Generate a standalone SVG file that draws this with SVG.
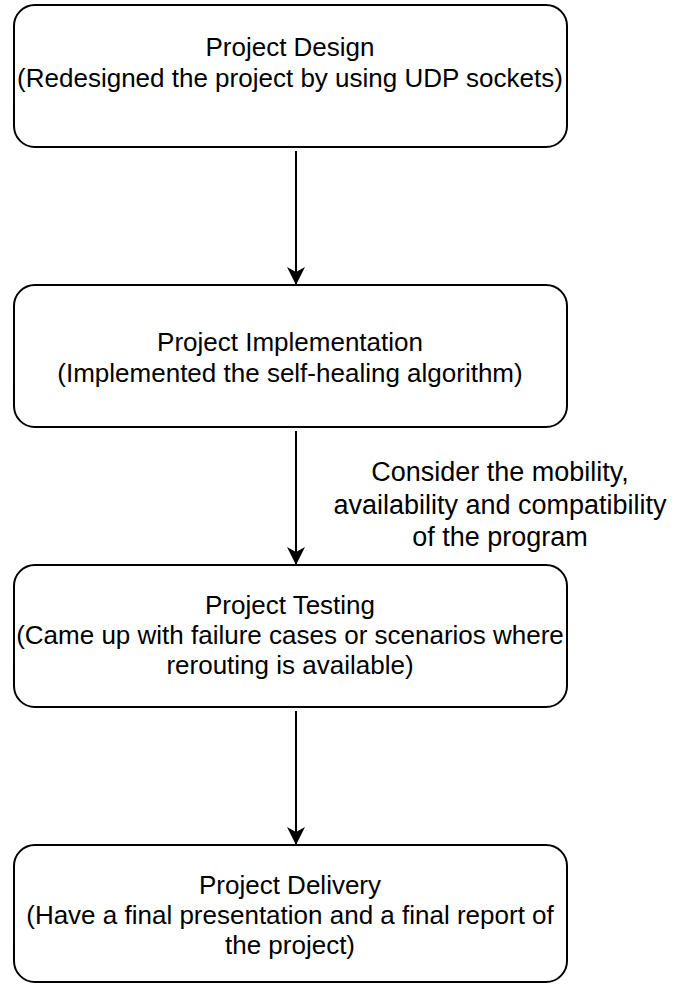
<svg xmlns="http://www.w3.org/2000/svg" width="678" height="984" viewBox="0 0 678 984">
<style>
.box{fill:#fff;stroke:#000;stroke-width:2}
text{font-family:"Liberation Sans",Arial,sans-serif;font-size:26px;fill:#000;text-anchor:middle}
.lbl{font-size:27px}
.edge{stroke:#000;stroke-width:2;fill:none}
</style>
<defs>
<marker id="arr" viewBox="0 0 18 18" refX="17" refY="9" markerWidth="18" markerHeight="18" markerUnits="userSpaceOnUse" orient="auto">
<path d="M0,0 L18,9 L0,18 L5,9 Z" fill="#000"/>
</marker>
</defs>
<rect width="678" height="984" fill="#fff"/>
<g id="connectors">
<line class="edge" x1="296" y1="151" x2="296" y2="284" marker-end="url(#arr)"/>
<line class="edge" x1="296" y1="431" x2="296" y2="564" marker-end="url(#arr)"/>
<line class="edge" x1="296" y1="711" x2="296" y2="844" marker-end="url(#arr)"/>
<g id="edge-label">
<text class="lbl" x="500" y="481">Consider the mobility,</text>
<text class="lbl" x="500" y="514">availability and compatibility</text>
<text class="lbl" x="500" y="546">of the program</text>
</g>
</g>
<g id="design">
<rect class="box" x="14" y="5" width="553" height="142" rx="21"/>
<text x="290" y="56">Project Design</text>
<text x="290" y="87">(Redesigned the project by using UDP sockets)</text>
</g>
<g id="implementation">
<rect class="box" x="14" y="285" width="553" height="142" rx="21"/>
<text x="290" y="351">Project Implementation</text>
<text x="290" y="382">(Implemented the self-healing algorithm)</text>
</g>
<g id="testing">
<rect class="box" x="14" y="565" width="553" height="142" rx="21"/>
<text x="290" y="614">Project Testing</text>
<text x="290" y="644">(Came up with failure cases or scenarios where</text>
<text x="290" y="674">rerouting is available)</text>
</g>
<g id="delivery">
<rect class="box" x="14" y="845" width="553" height="137" rx="21"/>
<text x="290" y="894">Project Delivery</text>
<text x="290" y="924">(Have a final presentation and a final report of</text>
<text x="290" y="954">the project)</text>
</g>
</svg>
